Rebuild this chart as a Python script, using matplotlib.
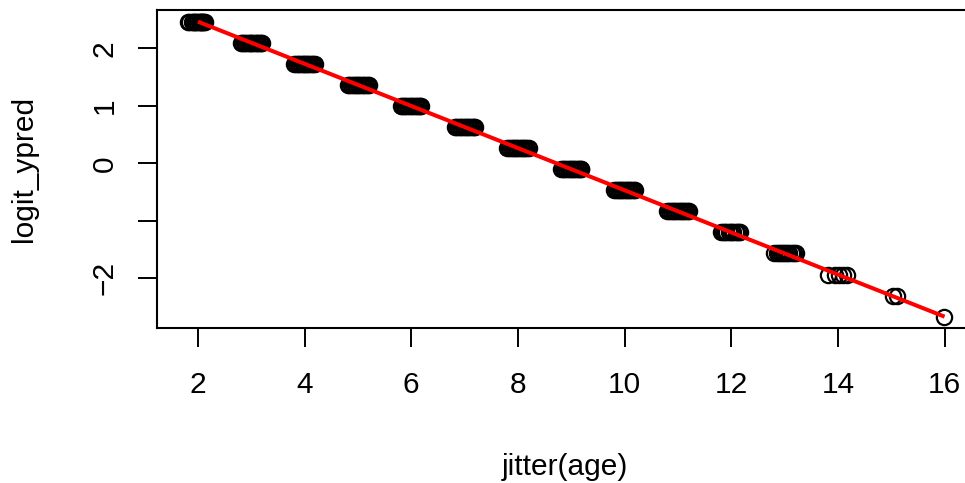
import matplotlib
matplotlib.use("Agg")
import matplotlib.pyplot as plt
import numpy as np

# fitted logit per (integer) age
ages = [2, 3, 4, 5, 6, 7, 8, 9, 10, 11, 12, 13, 14, 15, 16]
logit_ypred_by_age = [2.463, 2.097, 1.730, 1.364, 0.997, 0.631, 0.264, -0.102,
                      -0.469, -0.835, -1.202, -1.568, -1.935, -2.301, -2.668]

jitter_age = [
    1.81, 1.84, 1.88, 1.90, 1.93, 1.95, 1.97, 1.99, 2.01, 2.03, 2.05, 2.06, 2.08, 2.10, 2.12, 2.14,
    2.80, 2.83, 2.86, 2.89, 2.92, 2.95, 2.97, 3.00, 3.02, 3.05, 3.08, 3.10, 3.13, 3.16, 3.18, 3.20,
    3.80, 3.83, 3.87, 3.90, 3.93, 3.96, 3.99, 4.01, 4.04, 4.07, 4.10, 4.13, 4.16, 4.19,
    4.81, 4.84, 4.87, 4.90, 4.94, 4.97, 5.00, 5.02, 5.05, 5.09, 5.12, 5.15, 5.18, 5.20,
    5.80, 5.83, 5.86, 5.89, 5.92, 5.96, 5.99, 6.02, 6.05, 6.08, 6.11, 6.14, 6.17, 6.19,
    6.81, 6.84, 6.87, 6.91, 6.94, 6.97, 7.00, 7.03, 7.06, 7.09, 7.12, 7.15, 7.18, 7.20,
    7.80, 7.83, 7.86, 7.90, 7.93, 7.96, 7.99, 8.02, 8.05, 8.08, 8.11, 8.14, 8.17, 8.20,
    8.81, 8.84, 8.87, 8.90, 8.93, 8.97, 9.00, 9.03, 9.06, 9.09, 9.12, 9.15, 9.18, 9.19,
    9.81, 9.84, 9.87, 9.90, 9.93, 9.96, 9.99, 10.02, 10.05, 10.08, 10.11, 10.14, 10.17, 10.20,
    10.80, 10.83, 10.87, 10.90, 10.93, 10.96, 11.00, 11.03, 11.06, 11.09, 11.12, 11.15, 11.18, 11.20,
    11.81, 11.84, 11.88, 11.91, 11.95, 11.98, 12.01, 12.04, 12.08, 12.11, 12.14, 12.17,
    12.81, 12.85, 12.89, 12.93, 12.97, 13.01, 13.05, 13.09, 13.13, 13.17, 13.21,
    13.82, 13.95, 14.02, 14.10, 14.17,
    15.03, 15.10,
    15.98,
]

lookup = dict(zip(ages, logit_ypred_by_age))
jx = np.array(jitter_age)
jy = np.array([lookup[int(round(v))] for v in jitter_age])

W, H = 965, 483
fig = plt.figure(figsize=(W / 100, H / 100), dpi=100)
plt.rcParams['font.family'] = ['Liberation Sans', 'DejaVu Sans']

left_px, right_px, top_px, bot_px = 157.3, 975.0, 10.0, 328.3
ax = fig.add_axes([left_px / W, 1 - bot_px / H, (right_px - left_px) / W, (bot_px - top_px) / H])

ax.plot(jx, jy, linestyle='none', marker='o', markersize=11, markerfacecolor='none',
        markeredgecolor='black', markeredgewidth=1.6, clip_on=False, zorder=3)
ax.plot(ages, logit_ypred_by_age, color='#ff0000', linewidth=2.9, zorder=4,
        solid_capstyle='butt')

ax.set_xlim(1.237, 16.57)
ax.set_ylim(-2.870, 2.666)

ax.set_xticks([2, 4, 6, 8, 10, 12, 14, 16])
ax.set_xticklabels(['2', '4', '6', '8', '10', '12', '14', '16'])
ax.set_yticks([-2, -1, 0, 1, 2])
ax.set_yticklabels(['\u22122', '', '0', '1', '2'], rotation=90, va='center')

ax.tick_params(axis='both', direction='out', length=14, width=1.4, labelsize=21.5, colors='black')
ax.tick_params(axis='x', pad=17)
ax.tick_params(axis='y', pad=14)
for s in ax.spines.values():
    s.set_linewidth(1.5)
    s.set_color('black')

fig.text(565 / W, (H - 475) / H, 'jitter(age)', ha='center', va='baseline', fontsize=21.5)
fig.text(24 / W, 1 - 169 / H, 'logit_ypred', ha='center', va='center', rotation=90, fontsize=21.5)

fig.savefig('out.png', dpi=100)
